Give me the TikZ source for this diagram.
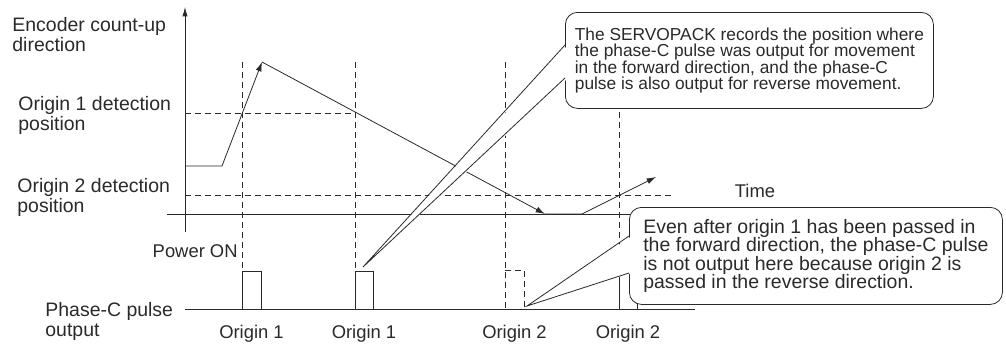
\documentclass[tikz,border=0pt]{standalone}
\usepackage{fontspec}
\setmainfont{Liberation Sans}
\usepackage{tikz}
\usetikzlibrary{arrows.meta}
\definecolor{ink}{HTML}{2A2A2A}

\begin{document}
\begin{tikzpicture}[x=0.75pt,y=-0.75pt,line width=0.6pt,draw=ink,
  lbl/.style={inner sep=0pt,anchor=base west,align=left,text=ink,font=\fontsize{14.6}{15}\selectfont},
  tag/.style={inner sep=0pt,anchor=base,text=ink,font=\fontsize{13.8}{15}\selectfont},
  dashline/.style={dash pattern=on 4.5pt off 3pt},
  tip/.style={-{Latex[length=7pt,width=4.5pt]}},
  notebox/.style={draw=ink,fill=white,rounded corners=9pt,inner sep=0pt,align=left,anchor=north west,text=ink}]
\useasboundingbox (0,0) rectangle (1006,343);
% axes
\draw[-{Latex[length=7pt,width=4pt]}] (185,232) -- (185,7);
\draw (167,214) -- (690,214);
\draw (185,309) -- (695,309);
% detection positions
\draw[dashline] (185,113) -- (355,113);
\draw[dashline] (185,195) -- (675,195);
% origin markers
\draw[dashline] (242,62) -- (242,271);
\draw[dashline] (355,62) -- (355,271);
\draw[dashline] (505,62) -- (505,309);
\draw[dashline] (619,62) -- (619,271);
% phase-C pulses
\draw (242,271) rectangle (261,309);
\draw (355,271) rectangle (373,309);
\draw[dashline] (505,270) -- (524,270) -- (524,309);
\draw (619,271) rectangle (637,309);
% motion
\draw[tip] (185,166) -- (222,166) -- (262,62);
\draw[tip] (262,62) -- (545,214);
\draw[tip] (545,214) -- (582,214) -- (656,177);
% labels (base = last line)
\node[lbl] (enc) at (12,51) {Encoder count-up\\direction};
\node[lbl] (det1) at (18,130) {Origin 1 detection\\position};
\node[lbl] (det2) at (17,212) {Origin 2 detection\\position};
\node[tag,anchor=base east] (pwr) at (238,257) {Power ON};
\node[lbl] (pcout) at (45,336) {Phase-C pulse\\output};
\node[tag] (time) at (755,197) {Time};
\node[tag] (o1a) at (251.5,338) {Origin 1};
\node[tag] (o1b) at (364,338) {Origin 1};
\node[tag] (o2a) at (514.5,338) {Origin 2};
\node[tag] (o2b) at (628,338) {Origin 2};
% callout: forward
\node[notebox,minimum width=276pt,minimum height=72pt,font=\fontsize{13}{12.2}\selectfont] (noteA) at (565,12)
  {The SERVOPACK records the position where\\the phase-C pulse was output for movement\\in the forward direction, and the phase-C\\pulse is also output for reverse movement.};
\coordinate (tipA) at (363,267);
\fill[white] (568,45) -- (tipA) -- (568,78) -- cycle;
\draw (565,45) -- (tipA) -- (565,78);
% callout: reverse
\node[notebox,minimum width=279.75pt,minimum height=72.75pt,font=\fontsize{14.6}{13.7}\selectfont] (noteB) at (629,207)
  {Even after origin 1 has been passed in\\the forward direction, the phase-C pulse\\is not output here because origin 2 is\\passed in the reverse direction.};
\coordinate (tipB) at (527,306);
\fill[white] (632,236) -- (tipB) -- (632,273) -- cycle;
\draw (629,236) -- (tipB) -- (629,273);
\end{tikzpicture}
\end{document}
